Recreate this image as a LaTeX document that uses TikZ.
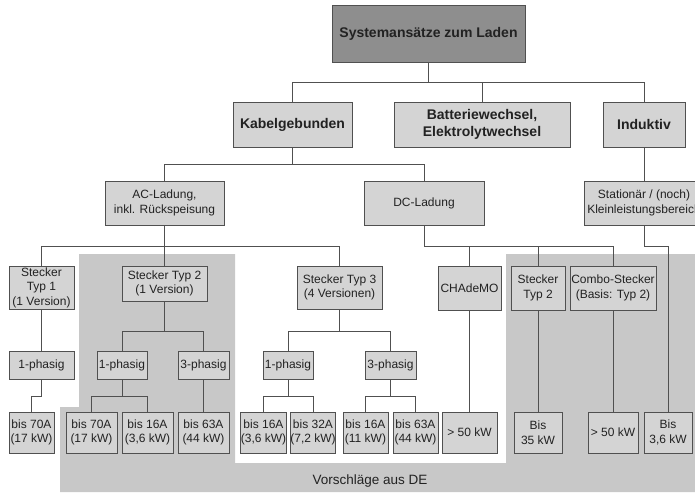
\documentclass[tikz,border=0pt]{standalone}
\usepackage{fontspec}
\setmainfont{Liberation Sans}
\definecolor{boxfill}{HTML}{D4D4D4}
\definecolor{topfill}{HTML}{8E8E8E}
\definecolor{regfill}{HTML}{C8C8C8}
\definecolor{edgec}{HTML}{505050}
\definecolor{txt}{HTML}{222222}
\tikzset{
  box/.style={draw=edgec, fill=boxfill, line width=0.8pt, inner sep=0pt, align=center, text=txt, font=\fontsize{12}{14.5}\selectfont},
  bbox/.style={box, font=\bfseries\fontsize{14}{17}\selectfont},
  conn/.style={draw=edgec, line width=0.8pt},
  region/.style={fill=regfill, draw=none},
}
\newcommand\mkbox[7]{\node[#1, minimum width={#4-#3}, minimum height={#6-#5}] (#2) at ({(#3+#4)/2},{(#5+#6)/2}) {#7};}
\begin{document}
\begin{tikzpicture}[x=1pt,y=-1pt]
\useasboundingbox (0,0) rectangle (695,492);
\clip (0,0) rectangle (695,492);
% region "Vorschlaege aus DE"
\path[region] (79,254) -- (235,254) -- (235,463) -- (506,463) -- (506,254) -- (695,254) -- (695,492) -- (60,492) -- (60,407) -- (79,407) -- cycle;
\node[font=\fontsize{13.5}{16}\selectfont, text=txt] (vor) at (370,481) {Vorschläge aus DE};
% level 0-1
\mkbox{bbox, fill=topfill}{top}{332}{525}{5}{62}{Systemansätze zum Laden}
\mkbox{bbox}{kab}{233}{352}{102}{147}{Kabelgebunden}
\mkbox{bbox}{bat}{394}{570}{102}{147}{Batteriewechsel,\\Elektrolytwechsel}
\mkbox{bbox}{ind}{603}{685}{102}{147}{Induktiv}
% level 2
\mkbox{box}{ac}{105}{224}{181}{225}{AC-Ladung,\\inkl. Rückspeisung}
\mkbox{box}{dc}{364}{484}{181}{225}{DC-Ladung}
\mkbox{box}{stat}{584}{704}{181}{225}{Stationär / (noch)\\Kleinleistungsbereich}
% level 3
\mkbox{box}{st1}{9}{74}{266}{309}{Stecker\\Typ 1\\(1 Version)}
\mkbox{box}{st2}{122}{207}{266}{301}{Stecker Typ 2\\(1 Version)}
\mkbox{box}{st3}{297}{382}{266}{309}{Stecker Typ 3\\(4 Versionen)}
\mkbox{box}{cha}{438}{501}{266}{310}{CHAdeMO}
\mkbox{box}{st2dc}{511}{565}{266}{310}{Stecker\\Typ 2}
\mkbox{box}{combo}{570}{656}{266}{310}{Combo-Stecker\\(Basis: Typ 2)}
% level 4
\mkbox{box}{ph1a}{9}{74}{351}{379}{1-phasig}
\mkbox{box}{ph1b}{97}{147}{351}{379}{1-phasig}
\mkbox{box}{ph3b}{178}{229}{351}{379}{3-phasig}
\mkbox{box}{ph1c}{263}{313}{351}{379}{1-phasig}
\mkbox{box}{ph3c}{365}{416}{351}{379}{3-phasig}
% level 5
\mkbox{box}{b70a}{9}{54}{412}{453}{bis 70A\\(17 kW)}
\mkbox{box}{b70b}{66}{117}{412}{453}{bis 70A\\(17 kW)}
\mkbox{box}{b16b}{122}{173}{412}{453}{bis 16A\\(3,6 kW)}
\mkbox{box}{b63b}{178}{229}{412}{453}{bis 63A\\(44 kW)}
\mkbox{box}{b16c}{241}{286}{412}{453}{bis 16A\\(3,6 kW)}
\mkbox{box}{b32c}{291}{335}{412}{453}{bis 32A\\(7,2 kW)}
\mkbox{box}{b16d}{343}{388}{412}{453}{bis 16A\\(11 kW)}
\mkbox{box}{b63d}{393}{438}{412}{453}{bis 63A\\(44 kW)}
\mkbox{box}{g50a}{442}{497}{412}{453}{> 50 kW}
\mkbox{box}{b35}{514}{562}{412}{453}{Bis\\35 kW}
\mkbox{box}{g50b}{588}{638}{412}{453}{> 50 kW}
\mkbox{box}{b36}{644}{692}{412}{453}{Bis\\3,6 kW}
% connectors
\draw[conn] (top.south) -- ++(0,20) coordinate (j0) -| (kab.north);
\draw[conn] (j0) -| (bat.north);
\draw[conn] (j0) -| (ind.north);
\draw[conn] (kab.south) -- ++(0,17) coordinate (j1) -| (ac.north);
\draw[conn] (j1) -| (dc.north);
\draw[conn] (ind.south) -- (stat.north);
\draw[conn] (ac.south) -- ++(0,21) coordinate (j2) -| (st1.north);
\draw[conn] (j2) -| (st2.north);
\draw[conn] (j2) -| (st3.north);
\draw[conn] (dc.south) -- ++(0,21) coordinate (j3) -| (cha.north);
\draw[conn] (j3) -| (st2dc.north);
\draw[conn] (j3) -| (combo.north);
\draw[conn] (stat.south) -- ++(0,21) -| (b36.north);
\draw[conn] (st1.south) -- (ph1a.north);
\draw[conn] (ph1a.south) -- ++(0,17) -| (b70a.north);
\draw[conn] (st2.south) -- ++(0,30) coordinate (j4) -| (ph1b.north);
\draw[conn] (j4) -| (ph3b.north);
\draw[conn] (st3.south) -- ++(0,22) coordinate (j5) -| (ph1c.north);
\draw[conn] (j5) -| (ph3c.north);
\draw[conn] (ph1b.south) -- ++(0,17) coordinate (j6) -| (b70b.north);
\draw[conn] (j6) -| (b16b.north);
\draw[conn] (ph3b.south) -- (b63b.north);
\draw[conn] (ph1c.south) -- ++(0,17) coordinate (j7) -| (b16c.north);
\draw[conn] (j7) -| (b32c.north);
\draw[conn] (ph3c.south) -- ++(0,17) coordinate (j8) -| (b16d.north);
\draw[conn] (j8) -| (b63d.north);
\draw[conn] (cha.south) -- (g50a.north);
\draw[conn] (st2dc.south) -- (b35.north);
\draw[conn] (combo.south) -- (g50b.north);
\end{tikzpicture}
\end{document}
